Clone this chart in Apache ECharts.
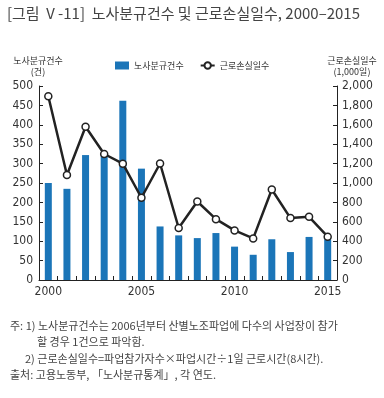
<!DOCTYPE html>
<html><head><meta charset="utf-8">
<script src="https://cdn.jsdelivr.net/npm/echarts@6/dist/echarts.min.js"></script>
<style>html,body{margin:0;padding:0;background:#fff}#c{width:384px;height:398px}</style>
</head><body><div id="c"></div>
<script>
const years = ['2000','2001','2002','2003','2004','2005','2006','2007','2008','2009','2010','2011','2012','2013','2014','2015'];
const disputes = [250,235,322,320,462,287,138,115,108,121,86,65,105,72,111,105];
const lostDays = [1894,1083,1580,1299,1199,848,1201,536,809,627,511,429,933,638,651,447];
const seriesNames = ['노사분규건수','근로손실일수'];
const title = '[그림 Ⅴ-11]  노사분규건수 및 근로손실일수, 2000–2015';
const leftName = ['노사분규건수','(건)'];
const rightName = ['근로손실일수','(1,000일)'];
const notes = [
  '주: 1) 노사분규건수는 2006년부터 산별노조파업에 다수의 사업장이 참가',
  '할 경우 1건으로 파악함.',
  '2) 근로손실일수=파업참가자수×파업시간÷1일 근로시간(8시간).',
  '출처: 고용노동부, 「노사분규통계」, 각 연도.'
];
const FONT = '"Noto Sans CJK KR", sans-serif';
const NUMFONT = '"Liberation Sans Narrow", "DejaVu Sans Condensed", sans-serif';
const chart = echarts.init(document.getElementById('c'), null, {renderer:'canvas'});
const axisLine = {show:true, lineStyle:{color:'#222', width:1}};
chart.setOption({
  animation:false,
  backgroundColor:'#fff',
  grid:{left:39, right:47, top:86, bottom:118},
  legend:{
    left:110, top:56, itemGap:16, itemWidth:14, itemHeight:8,
    textStyle:{fontFamily:FONT, fontSize:9, color:'#333'},
    data:[{name:seriesNames[0], icon:'rect'},{name:seriesNames[1]}]
  },
  xAxis:{
    type:'category', data:years,
    axisLine:axisLine,
    axisTick:{show:true, inside:true, length:4, interval:0, lineStyle:{color:'#222'}},
    axisLabel:{interval:4, fontFamily:NUMFONT, fontSize:12, color:'#333', margin:6}
  },
  yAxis:[
    {type:'value', min:0, max:500, interval:50, axisLine:axisLine,
     axisTick:{show:true, inside:true, length:4, lineStyle:{color:'#222'}},
     splitLine:{show:false},
     axisLabel:{fontFamily:NUMFONT, fontSize:12, color:'#333', margin:6}},
    {type:'value', min:0, max:2000, interval:200, position:'right', axisLine:axisLine,
     axisTick:{show:true, inside:true, length:4, lineStyle:{color:'#222'}},
     splitLine:{show:false},
     axisLabel:{fontFamily:NUMFONT, fontSize:12, color:'#333', margin:5,
       formatter:v=>v.toLocaleString('en-US')}}
  ],
  series:[
    {name:seriesNames[0], type:'bar', data:disputes, barWidth:7,
     itemStyle:{color:'#1b75b8'}},
    {name:seriesNames[1], type:'line', yAxisIndex:1, data:lostDays,
     symbol:'circle', symbolSize:7,
     lineStyle:{color:'#222', width:2.5},
     itemStyle:{color:'#fff', borderColor:'#222', borderWidth:1.5}}
  ],
  graphic:[
    {type:'text', left:7, top:6, style:{text:title, font:'15px '+FONT, fill:'#444'}},
    {type:'text', x:38, y:56, style:{text:leftName[0], font:'9px '+FONT, fill:'#333', align:'center'}},
    {type:'text', x:38, y:67, style:{text:leftName[1], font:'9px '+FONT, fill:'#333', align:'center'}},
    {type:'text', x:352, y:56, style:{text:rightName[0], font:'9px '+FONT, fill:'#333', align:'center'}},
    {type:'text', x:352, y:67, style:{text:rightName[1], font:'9px '+FONT, fill:'#333', align:'center'}},
    {type:'text', x:10, y:320, style:{text:notes[0], font:'11px '+FONT, fill:'#444'}},
    {type:'text', x:37, y:336, style:{text:notes[1], font:'11px '+FONT, fill:'#444'}},
    {type:'text', x:25, y:353, style:{text:notes[2], font:'11px '+FONT, fill:'#444'}},
    {type:'text', x:10, y:369, style:{text:notes[3], font:'11px '+FONT, fill:'#444'}}
  ]
});
</script></body></html>
